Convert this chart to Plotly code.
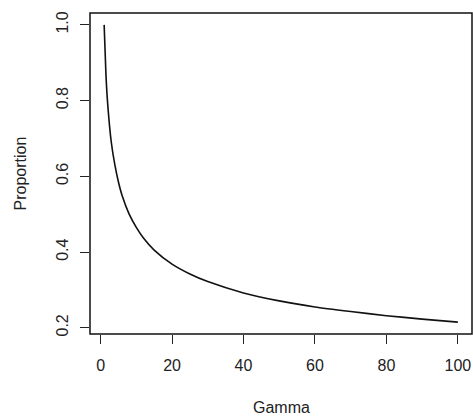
import plotly.graph_objects as go

gamma = [1, 1.5, 2, 3, 4, 5, 6, 8, 10, 12, 15, 20, 25, 30, 40, 50, 60, 70, 80, 90, 100]
proportion = [1.00, 0.87, 0.79, 0.69, 0.63, 0.585, 0.55, 0.50, 0.465, 0.437, 0.405,
              0.368, 0.342, 0.322, 0.292, 0.271, 0.255, 0.243, 0.232, 0.223, 0.215]
x_ticks = [0, 20, 40, 60, 80, 100]
y_ticks = [0.2, 0.4, 0.6, 0.8]
y_ticks_all = y_ticks + [1.0]
y_tick_labels = ["0.2", "0.4", "0.6", "0.8", "1.0"]
x_title = "Gamma"
y_title = "Proportion"

FONT = "Liberation Sans, Arial, sans-serif"
TXT = "#222222"
FS = 16

fig = go.Figure()
fig.add_trace(go.Scatter(x=gamma, y=proportion, mode="lines",
                         line=dict(color="#111111", width=1.6, shape="spline", smoothing=0.6),
                         hoverinfo="skip", showlegend=False))

xr = [1 - 0.04 * 99, 100 + 0.04 * 99]
yspan = max(proportion) - min(proportion)
yr = [min(proportion) - 0.04 * yspan, max(proportion) + 0.04 * yspan]

fig.update_layout(
    width=473, height=417,
    margin=dict(l=90, r=1, t=13, b=83),
    paper_bgcolor="white", plot_bgcolor="white",
    font=dict(family=FONT, size=FS, color=TXT),
    xaxis=dict(range=xr, tickmode="array", tickvals=x_ticks,
               ticktext=[str(v) for v in x_ticks],
               ticks="outside", ticklen=9, tickwidth=1, tickcolor="#222",
               showgrid=False, zeroline=False, showline=False,
               ticklabelstandoff=8, tickfont=dict(size=FS, color=TXT)),
    yaxis=dict(range=yr, tickmode="array", tickvals=y_ticks_all,
               ticktext=y_tick_labels, tickangle=-90,
               ticks="outside", ticklen=9, tickwidth=1, tickcolor="#222",
               showgrid=False, zeroline=False, showline=False,
               ticklabelstandoff=6, tickfont=dict(size=FS, color=TXT)),
    shapes=[dict(type="rect", xref="paper", yref="paper", x0=0, y0=0, x1=1, y1=1,
                 line=dict(color="#111111", width=1.5))],
    annotations=[
        dict(text=x_title, xref="paper", yref="paper", x=0.5, y=0, yshift=-73,
             showarrow=False, font=dict(size=FS, color=TXT), yanchor="middle"),
        dict(text=y_title, xref="paper", yref="paper", x=0, y=0.5, xshift=-70,
             showarrow=False, textangle=-90, font=dict(size=FS, color=TXT),
             xanchor="center", yanchor="middle"),
    ],
)

fig.write_html("out.html", config={"displayModeBar": False},
               post_script="document.body.style.margin='0';document.body.style.overflow='hidden';")
